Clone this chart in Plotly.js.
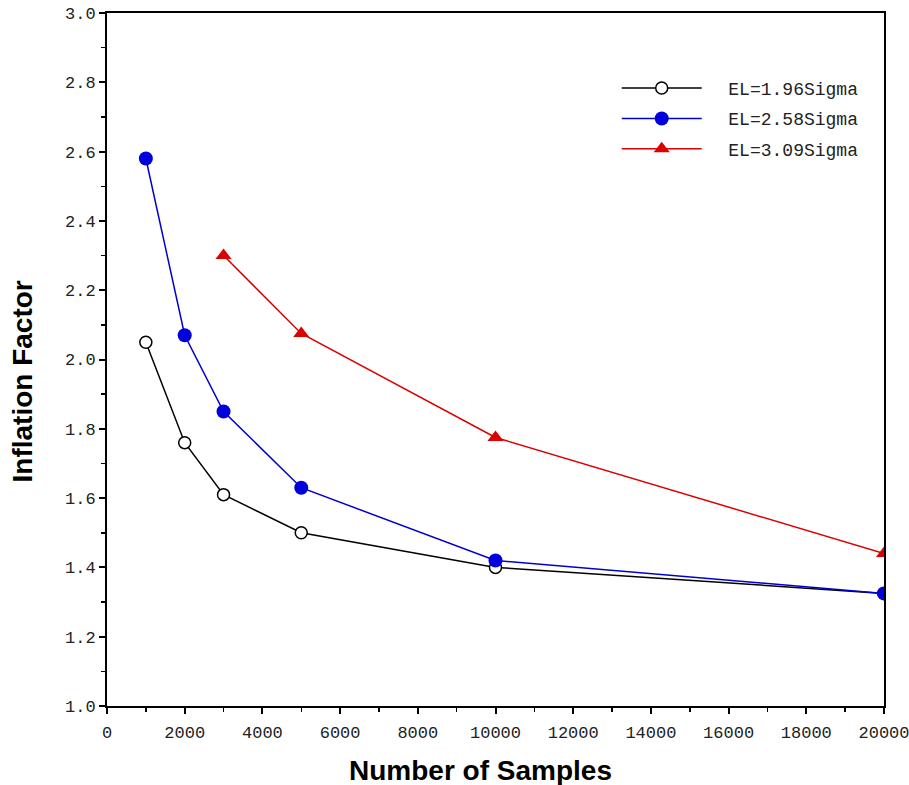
<!DOCTYPE html>
<html><head><meta charset="utf-8">
<script src="https://cdn.plot.ly/plotly-3.0.1.min.js"></script>
<style>html,body{margin:0;padding:0;background:#fff}#chart{width:909px;height:785px}</style>
</head><body><div id="chart"></div>
<script>
const samples1 = [1000, 2000, 3000, 5000, 10000, 20000];
const el196 = [2.05, 1.76, 1.61, 1.50, 1.40, 1.325];
const samples2 = [1000, 2000, 3000, 5000, 10000, 20000];
const el258 = [2.58, 2.07, 1.85, 1.63, 1.42, 1.325];
const samples3 = [3000, 5000, 10000, 20000];
const el309 = [2.30, 2.075, 1.775, 1.44];
const seriesNames = ['EL=1.96Sigma', 'EL=2.58Sigma', 'EL=3.09Sigma'];
const xTitle = 'Number of Samples';
const yTitle = 'Inflation Factor';

const pad = '\u00a0\u00a0';
const traces = [
  {x: samples1, y: el196, name: pad + seriesNames[0], legendgroup: 'a', mode: 'lines+markers', type: 'scatter',
   line: {color: '#000000', width: 1.5},
   marker: {symbol: 'circle', size: 12, color: '#ffffff', line: {color: '#000000', width: 1.5}}},
  {x: samples2, y: el258, name: pad + seriesNames[1], legendgroup: 'b', mode: 'lines+markers', type: 'scatter',
   line: {color: '#0000cc', width: 1.5},
   marker: {symbol: 'circle', size: 14, color: '#0000dd', line: {width: 0}}},
  {x: samples3, y: el309, name: pad + seriesNames[2], legendgroup: 'c', mode: 'lines+markers', type: 'scatter',
   line: {color: '#dd0000', width: 1.5},
   marker: {symbol: 'triangle-up', size: 14, color: '#dd0000', line: {width: 0}}}
];

const tickFont = {family: 'Liberation Mono, Courier New, monospace', size: 17, color: '#222'};
const titleFont = {family: 'Liberation Sans, Arial, sans-serif', size: 28, color: '#000', weight: 'bold'};
const layout = {
  width: 909, height: 785,
  margin: {l: 107, r: 25, t: 13, b: 79},
  paper_bgcolor: '#ffffff', plot_bgcolor: '#ffffff',
  showlegend: true,
  legend: {x: 0.656, y: 0.918, xanchor: 'left', yanchor: 'top', bgcolor: 'rgba(0,0,0,0)',
           font: {family: 'Liberation Mono, Courier New, monospace', size: 18, color: '#222'},
           itemwidth: 80, traceorder: 'grouped', tracegroupgap: 4},
  xaxis: {range: [0, 20000], dtick: 2000, tick0: 0, tickformat: 'd', showgrid: false, zeroline: false,
          ticks: 'outside', ticklen: 6, tickwidth: 2, tickcolor: '#000', ticklabelstandoff: 4,
          ticklabeloverflow: 'allow',
          showline: true, linecolor: '#000', linewidth: 2, mirror: true,
          tickfont: tickFont, automargin: false,
          minor: {dtick: 1000, ticks: 'outside', ticklen: 4, tickwidth: 1.5, tickcolor: '#000', showgrid: false}},
  yaxis: {range: [1.0, 3.0], dtick: 0.2, tick0: 1.0, tickformat: '.1f', showgrid: false, zeroline: false,
          ticks: 'outside', ticklen: 6, tickwidth: 2, tickcolor: '#000',
          ticklabeloverflow: 'allow',
          showline: true, linecolor: '#000', linewidth: 2, mirror: true,
          tickfont: tickFont, automargin: false,
          minor: {dtick: 0.1, ticks: 'outside', ticklen: 4, tickwidth: 1.5, tickcolor: '#000', showgrid: false}},
  annotations: [
    {text: xTitle, xref: 'paper', yref: 'paper', x: 0.4813, y: -0.0924, xanchor: 'center', yanchor: 'middle',
     showarrow: false, font: titleFont},
    {text: yTitle, xref: 'paper', yref: 'paper', x: -0.1094, y: 0.4683, xanchor: 'center', yanchor: 'middle',
     textangle: -90, showarrow: false, font: titleFont}
  ]
};
Plotly.newPlot('chart', traces, layout, {displayModeBar: false, staticPlot: true});
</script></body></html>
